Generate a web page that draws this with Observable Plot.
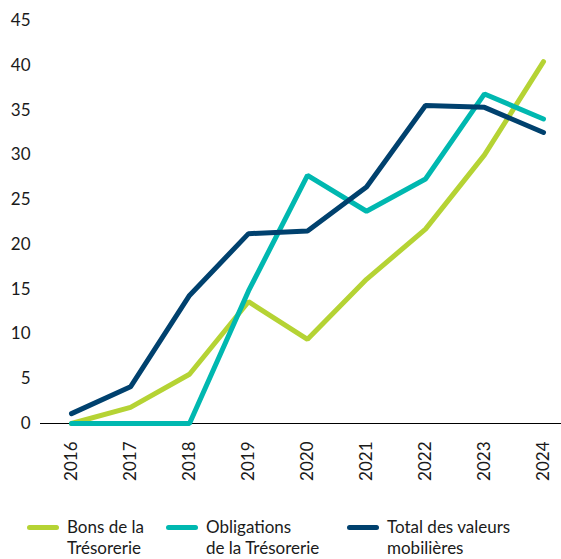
<!DOCTYPE html>
<html>
<head>
<meta charset="utf-8">
<script src="https://cdn.jsdelivr.net/npm/d3@7"></script>
<script src="https://cdn.jsdelivr.net/npm/@observablehq/plot@0.6"></script>
<style>
  body { margin: 0; background: #fff; font-family: Lato, "Open Sans", sans-serif; }
  #wrap { position: relative; width: 561px; height: 559px; }
  .legend { position: absolute; top: 0; left: 0; width: 561px; }
  .item { position: absolute; top: 516px; display: flex; align-items: flex-start; font-size: 17px; line-height: 21px; color: #1a1a1a; }
  .sw { width: 32px; height: 5px; border-radius: 3px; margin-top: 9px; margin-right: 8px; }
</style>
</head>
<body>
<div id="wrap"></div>
<script>
const years = ["2016","2017","2018","2019","2020","2021","2022","2023","2024"];
const bons = [0, 1.8, 5.5, 13.6, 9.4, 16.1, 21.7, 30.0, 40.4];
const obligations = [0, 0, 0, 14.8, 27.7, 23.7, 27.3, 36.8, 34.0];
const total = [1.1, 4.1, 14.3, 21.2, 21.5, 26.4, 35.5, 35.3, 32.5];
const seriesNames = ["Bons de la Trésorerie", "Obligations de la Trésorerie", "Total des valeurs mobilières"];
const legendLines = [["Bons de la", "Trésorerie"], ["Obligations", "de la Trésorerie"], ["Total des valeurs", "mobilières"]];
const colors = ["#b5d334", "#00b8b0", "#00416e"];
const yTicks = [0, 5, 10, 15, 20, 25, 30, 35, 40, 45];

const data = [];
[bons, obligations, total].forEach((arr, s) => {
  arr.forEach((v, i) => data.push({year: years[i], value: v, series: seriesNames[s]}));
});

const chart = Plot.plot({
  width: 561,
  height: 500,
  marginLeft: 40,
  marginRight: 0,
  marginTop: 20,
  marginBottom: 77,
  style: {fontFamily: "Lato, 'Open Sans', sans-serif", fontSize: "17px", color: "#1a1a1a"},
  x: {type: "point", domain: years, padding: 0, insetLeft: 28, insetRight: 16, label: null},
  y: {domain: [0, 45], label: null},
  color: {domain: seriesNames, range: colors},
  marks: [
    Plot.axisY({ticks: yTicks, tickSize: 0, tickPadding: 10, label: null, fontSize: 17}),
    Plot.axisX({tickSize: 0, tickPadding: 18, tickRotate: -90, label: null, fontSize: 17}),
    Plot.ruleY([0], {stroke: "#000", strokeWidth: 1}),
    Plot.line(data, {x: "year", y: "value", z: "series", stroke: "series", strokeWidth: 5, strokeLinecap: "round", strokeLinejoin: "miter"})
  ]
});

const wrap = document.getElementById("wrap");
wrap.appendChild(chart);
const leg = document.createElement("div");
leg.className = "legend";
const lefts = [27, 166, 347];
seriesNames.forEach((n, i) => {
  const it = document.createElement("div");
  it.className = "item";
  it.style.left = lefts[i] + "px";
  const sw = document.createElement("div");
  sw.className = "sw";
  sw.style.background = colors[i];
  const t = document.createElement("div");
  t.innerHTML = legendLines[i].join("<br>");
  it.appendChild(sw);
  it.appendChild(t);
  leg.appendChild(it);
});
wrap.appendChild(leg);
</script>
</body>
</html>
